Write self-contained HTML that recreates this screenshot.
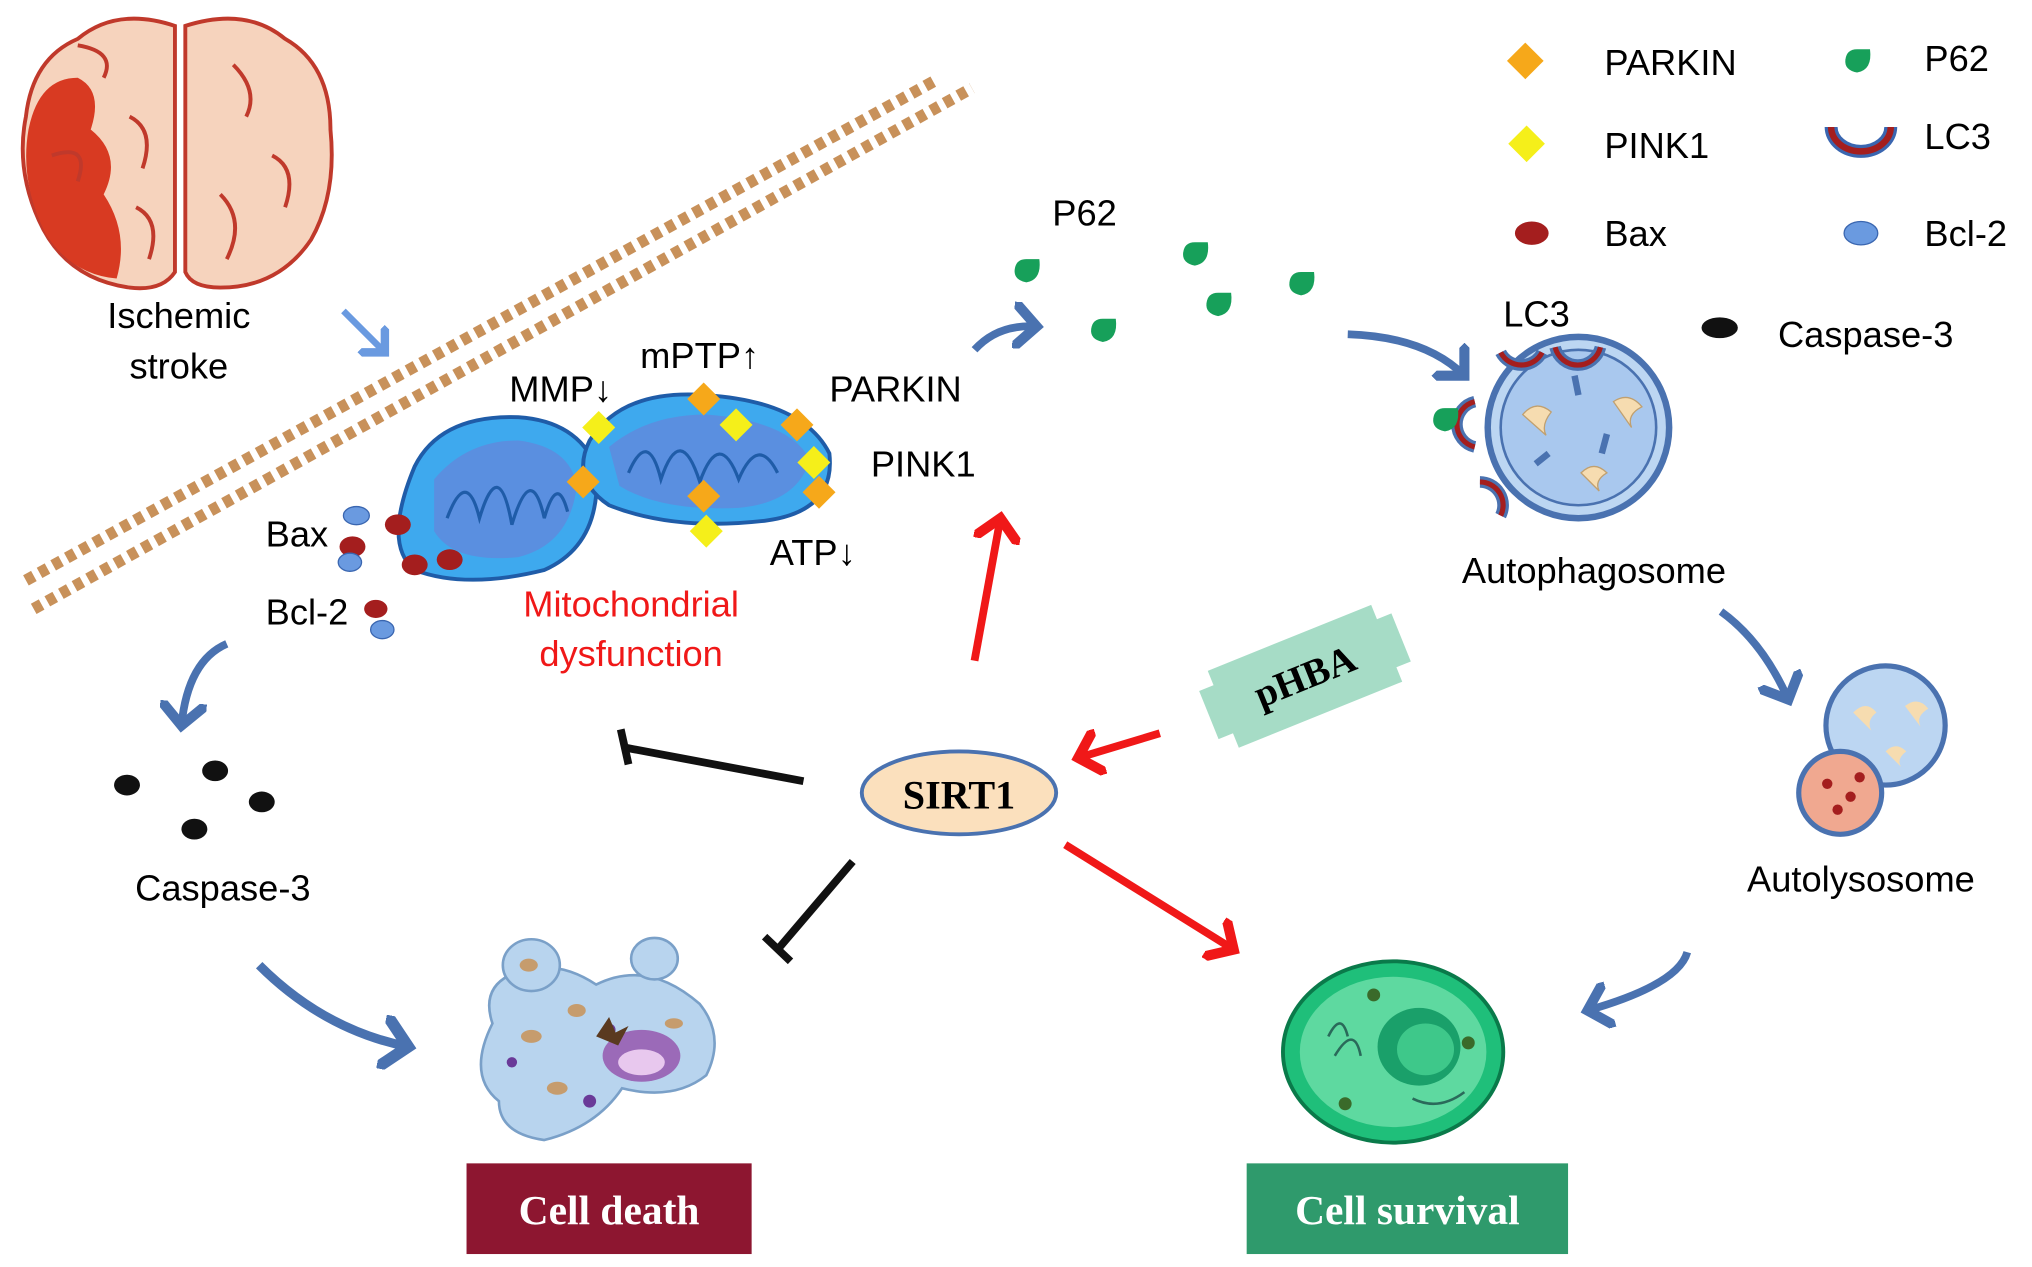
<!DOCTYPE html>
<html><head><meta charset="utf-8"><style>
html,body{margin:0;padding:0;background:#fff}
svg{display:block}
text{font-family:"Liberation Sans",sans-serif}
text.sf{font-family:"Liberation Serif",serif;font-weight:bold}
</style></head><body>
<svg width="2032" height="1267" viewBox="0 0 1568 978" preserveAspectRatio="none" xmlns="http://www.w3.org/2000/svg">
<defs>
<marker id="bh" markerWidth="6" markerHeight="6" refX="3" refY="3" orient="auto" markerUnits="strokeWidth"><path d="M0,0 L3,3 L0,6" fill="none" stroke="#4a72b0" stroke-width="1.3"/></marker>
<marker id="lb" markerWidth="6" markerHeight="6" refX="3" refY="3" orient="auto" markerUnits="strokeWidth"><path d="M0,0 L3,3 L0,6" fill="none" stroke="#6a9ae0" stroke-width="1.3"/></marker>
<marker id="rh" markerWidth="6" markerHeight="6" refX="3" refY="3" orient="auto" markerUnits="strokeWidth"><path d="M0,0 L3,3 L0,6" fill="none" stroke="#f01818" stroke-width="1.3"/></marker>
<g id="drop"><path d="M0,-10 L10,-10 Q12,6 0,8 Q-10,6 -9,-2 Q-8,-10 0,-10Z" fill="#17a05a"/></g>
</defs>

<!-- brain -->
<g>
<path d="M135,20 Q90,5 60,30 Q25,45 20,90 Q12,130 30,170 Q50,215 100,222 Q125,225 135,210Z" fill="#f6d3bd" stroke="#c0392b" stroke-width="3"/>
<path d="M143,20 Q190,5 220,30 Q255,50 255,100 Q260,150 240,185 Q215,222 170,222 Q148,222 143,210Z" fill="#f6d3bd" stroke="#c0392b" stroke-width="3"/>
<path d="M22,100 Q30,60 60,60 Q80,70 70,100 Q95,120 80,150 Q100,180 90,215 Q55,212 35,180 Q15,140 22,100Z" fill="#d83a22"/>
<path d="M60,35 Q90,40 80,60 M40,120 Q70,110 60,140 M100,90 Q120,100 110,130 M180,50 Q200,70 190,90 M210,120 Q230,130 220,160 M170,150 Q190,170 175,200 M105,160 Q125,170 115,200" fill="none" stroke="#c0392b" stroke-width="3"/>
</g>
<text x="138" y="253" font-size="28" text-anchor="middle">Ischemic</text>
<text x="138" y="292" font-size="28" text-anchor="middle">stroke</text>
<path d="M265,240 L297,272" stroke="#6a9ae0" stroke-width="5" fill="none" marker-end="url(#lb)"/>

<!-- dashed membrane -->
<line x1="20" y1="448" x2="722" y2="62" stroke="#c8915a" stroke-width="9" stroke-dasharray="7,5"/>
<line x1="26" y1="470" x2="750" y2="68" stroke="#c8915a" stroke-width="9" stroke-dasharray="7,5"/>

<!-- mitochondria -->
<path d="M320,360 Q340,320 400,322 Q445,325 460,360 Q465,420 420,440 Q360,455 320,440 Q295,420 320,360Z" fill="#3ea9ee" stroke="#1f5ca8" stroke-width="3"/>
<path d="M335,370 Q360,340 400,340 Q440,345 445,375 Q440,420 400,430 Q350,435 335,410Z" fill="#5a8fe0"/>
<path d="M345,400 Q360,360 370,400 Q385,350 395,405 Q410,355 420,400 Q430,365 438,395" fill="none" stroke="#1f5ca8" stroke-width="2.5"/>
<path d="M455,340 Q480,300 545,305 Q620,310 640,350 Q645,395 590,402 Q520,410 470,390 Q440,370 455,340Z" fill="#3ea9ee" stroke="#1f5ca8" stroke-width="3"/>
<path d="M470,345 Q500,320 545,320 Q610,325 625,355 Q615,388 570,392 Q510,395 478,375Z" fill="#5a8fe0"/>
<path d="M485,365 Q500,330 510,370 Q525,325 540,372 Q555,330 570,370 Q585,335 600,365" fill="none" stroke="#1f5ca8" stroke-width="2.5"/>
<g fill="#f6a81a">
<rect x="-9" y="-9" width="18" height="18" transform="translate(543,308) rotate(45)"/>
<rect x="-9" y="-9" width="18" height="18" transform="translate(615,328) rotate(45)"/>
<rect x="-9" y="-9" width="18" height="18" transform="translate(450,372) rotate(45)"/>
<rect x="-9" y="-9" width="18" height="18" transform="translate(543,383) rotate(45)"/>
<rect x="-9" y="-9" width="18" height="18" transform="translate(632,380) rotate(45)"/>
</g>
<g fill="#f5ef1a">
<rect x="-9" y="-9" width="18" height="18" transform="translate(462,330) rotate(45)"/>
<rect x="-9" y="-9" width="18" height="18" transform="translate(568,328) rotate(45)"/>
<rect x="-9" y="-9" width="18" height="18" transform="translate(628,357) rotate(45)"/>
<rect x="-9" y="-9" width="18" height="18" transform="translate(545,410) rotate(45)"/>
</g>
<g fill="#a41e1e"><ellipse cx="307" cy="405" rx="10" ry="8"/><ellipse cx="272" cy="422" rx="10" ry="8"/><ellipse cx="320" cy="436" rx="10" ry="8"/><ellipse cx="347" cy="432" rx="10" ry="8"/><ellipse cx="290" cy="470" rx="9" ry="7"/></g>
<g fill="#6a9ae0" stroke="#3a66b0"><ellipse cx="275" cy="398" rx="10" ry="7"/><ellipse cx="270" cy="434" rx="9" ry="7"/><ellipse cx="295" cy="486" rx="9" ry="7"/></g>

<g font-size="28">
<text x="393" y="310">MMP↓</text>
<text x="494" y="284">mPTP↑</text>
<text x="640" y="310">PARKIN</text>
<text x="672" y="368">PINK1</text>
<text x="594" y="436">ATP↓</text>
<text x="205" y="422">Bax</text>
<text x="205" y="482">Bcl-2</text>
<text x="812" y="174">P62</text>
</g>
<text x="487" y="476" font-size="28" fill="#f01818" text-anchor="middle">Mitochondrial</text>
<text x="487" y="514" font-size="28" fill="#f01818" text-anchor="middle">dysfunction</text>

<!-- P62 drops -->
<use href="#drop" x="792" y="210"/><use href="#drop" x="922" y="197"/><use href="#drop" x="1004" y="220"/><use href="#drop" x="851" y="256"/><use href="#drop" x="940" y="236"/>
<path d="M752,270 Q770,250 800,252" stroke="#4a72b0" stroke-width="6" fill="none" marker-end="url(#bh)"/>
<path d="M1040,258 Q1100,260 1130,290" stroke="#4a72b0" stroke-width="6" fill="none" marker-end="url(#bh)"/>

<!-- legend -->
<rect x="-10" y="-10" width="20" height="20" fill="#f6a81a" transform="translate(1177,47) rotate(45)"/>
<rect x="-10" y="-10" width="20" height="20" fill="#f5ef1a" transform="translate(1178,111) rotate(45)"/>
<ellipse cx="1182" cy="180" rx="13" ry="9" fill="#a41e1e"/>
<ellipse cx="1327" cy="253" rx="14" ry="8" fill="#111"/>
<use href="#drop" x="1433" y="48"/>
<path d="M1413,98 A22,18 0 0 0 1459,98" fill="none" stroke="#3a66b0" stroke-width="10"/>
<path d="M1413,98 A22,18 0 0 0 1459,98" fill="none" stroke="#a41e1e" stroke-width="5"/>
<ellipse cx="1436" cy="180" rx="13" ry="9" fill="#6a9ae0" stroke="#3a66b0"/>
<g font-size="28">
<text x="1238" y="58">PARKIN</text>
<text x="1238" y="122">PINK1</text>
<text x="1238" y="190">Bax</text>
<text x="1372" y="268">Caspase-3</text>
<text x="1485" y="55">P62</text>
<text x="1485" y="115">LC3</text>
<text x="1485" y="190">Bcl-2</text>
<text x="1160" y="252">LC3</text>
</g>

<!-- autophagosome -->
<circle cx="1218" cy="330" r="70" fill="#bcd6f2" stroke="#4a72b0" stroke-width="5"/>
<circle cx="1218" cy="330" r="60" fill="#a9c8ee" stroke="#4a72b0" stroke-width="2"/>
<g fill="#f6dcb0" stroke="#c0a070"><path d="M1175,320 q10,-12 22,-2 q-8,10 -4,18z"/><path d="M1245,310 q12,-8 22,4 q-12,6 -8,16z"/><path d="M1220,365 q10,-10 20,0 q-10,6 -6,14z"/></g>
<g stroke="#4a72b0" stroke-width="5"><line x1="1215" y1="290" x2="1218" y2="305"/><line x1="1240" y1="335" x2="1236" y2="350"/><line x1="1195" y1="350" x2="1185" y2="358"/></g>
<g fill="none" stroke-width="9"><path d="M1158,272 A18,18 0 0 0 1190,272" stroke="#4a72b0"/><path d="M1200,268 A18,18 0 0 0 1235,268" stroke="#4a72b0"/><path d="M1138,310 A18,18 0 0 0 1138,345" stroke="#4a72b0"/><path d="M1142,372 A18,18 0 0 1 1158,398" stroke="#4a72b0"/></g>
<g fill="none" stroke-width="4"><path d="M1158,272 A18,18 0 0 0 1190,272" stroke="#a41e1e"/><path d="M1200,268 A18,18 0 0 0 1235,268" stroke="#a41e1e"/><path d="M1138,310 A18,18 0 0 0 1138,345" stroke="#a41e1e"/><path d="M1142,372 A18,18 0 0 1 1158,398" stroke="#a41e1e"/></g>
<use href="#drop" x="1115" y="325"/>
<text x="1230" y="450" font-size="28" text-anchor="middle">Autophagosome</text>
<path d="M1328,472 Q1360,495 1380,540" stroke="#4a72b0" stroke-width="6" fill="none" marker-end="url(#bh)"/>

<!-- autolysosome -->
<circle cx="1455" cy="560" r="46" fill="#bcd6f2" stroke="#4a72b0" stroke-width="4"/>
<g fill="#f6dcb0"><path d="M1430,550 q10,-10 18,0 q-8,6 -4,14z"/><path d="M1470,545 q10,-8 18,2 q-10,6 -6,14z"/><path d="M1455,580 q8,-8 16,0 q-8,6 -4,12z"/></g>
<circle cx="1420" cy="612" r="32" fill="#f0a890" stroke="#4a72b0" stroke-width="4"/>
<g fill="#a41e1e"><circle cx="1410" cy="605" r="4"/><circle cx="1428" cy="615" r="4"/><circle cx="1418" cy="625" r="4"/><circle cx="1435" cy="600" r="4"/></g>
<text x="1436" y="688" font-size="28" text-anchor="middle">Autolysosome</text>
<path d="M1302,735 Q1295,760 1225,780" stroke="#4a72b0" stroke-width="6" fill="none" marker-end="url(#bh)"/>

<!-- pHBA -->
<g transform="translate(1007,522) rotate(-22)">
<rect x="-68" y="-32" width="136" height="64" fill="#a6dcc6"/>
<rect x="-80" y="-20" width="160" height="40" fill="#a6dcc6"/>
<text class="sf" x="0" y="10" font-size="30" text-anchor="middle">pHBA</text>
</g>

<!-- SIRT1 -->
<ellipse cx="740" cy="612" rx="75" ry="32" fill="#fbe0bd" stroke="#4a72b0" stroke-width="3"/>
<text class="sf" x="740" y="624" font-size="31" text-anchor="middle">SIRT1</text>
<path d="M752,510 L772,400" stroke="#f01818" stroke-width="6" fill="none" marker-end="url(#rh)"/>
<path d="M895,566 L832,585" stroke="#f01818" stroke-width="6" fill="none" marker-end="url(#rh)"/>
<path d="M822,652 L952,733" stroke="#f01818" stroke-width="6" fill="none" marker-end="url(#rh)"/>
<line x1="620" y1="603" x2="482" y2="577" stroke="#111" stroke-width="6"/>
<line x1="479" y1="563" x2="485" y2="590" stroke="#111" stroke-width="6"/>
<line x1="658" y1="665" x2="600" y2="733" stroke="#111" stroke-width="6"/>
<line x1="590" y1="723" x2="610" y2="742" stroke="#111" stroke-width="6"/>

<!-- caspase -->
<path d="M175,497 Q145,510 140,560" stroke="#4a72b0" stroke-width="6" fill="none" marker-end="url(#bh)"/>
<g fill="#111"><ellipse cx="98" cy="606" rx="10" ry="8"/><ellipse cx="166" cy="595" rx="10" ry="8"/><ellipse cx="202" cy="619" rx="10" ry="8"/><ellipse cx="150" cy="640" rx="10" ry="8"/></g>
<text x="172" y="695" font-size="28" text-anchor="middle">Caspase-3</text>
<path d="M200,745 Q250,795 315,808" stroke="#4a72b0" stroke-width="7" fill="none" marker-end="url(#bh)"/>

<!-- dead cell -->
<path d="M380,790 Q370,760 400,750 Q430,740 460,760 Q500,740 540,775 Q560,800 545,830 Q520,850 480,840 Q460,870 420,880 Q385,875 385,850 Q360,830 380,790Z" fill="#b8d4ee" stroke="#7aa0c8" stroke-width="2"/>
<ellipse cx="410" cy="745" rx="22" ry="20" fill="#b8d4ee" stroke="#7aa0c8" stroke-width="2"/>
<ellipse cx="505" cy="740" rx="18" ry="16" fill="#b8d4ee" stroke="#7aa0c8" stroke-width="2"/>
<ellipse cx="495" cy="815" rx="30" ry="20" fill="#9b6ab8"/>
<ellipse cx="495" cy="820" rx="18" ry="10" fill="#e8c8ee"/>
<g fill="#c69c6d"><ellipse cx="410" cy="800" rx="8" ry="5"/><ellipse cx="445" cy="780" rx="7" ry="5"/><ellipse cx="430" cy="840" rx="8" ry="5"/><ellipse cx="520" cy="790" rx="7" ry="4"/><ellipse cx="408" cy="745" rx="7" ry="5"/></g>
<g fill="#6a3a98"><circle cx="395" cy="820" r="4"/><circle cx="470" cy="795" r="5"/><circle cx="455" cy="850" r="5"/></g>
<path d="M460,800 l10,-15 l5,12 l10,-5 l-8,15z" fill="#5a3a20"/>

<!-- survival cell -->
<ellipse cx="1075" cy="812" rx="85" ry="70" fill="#1fbf7a" stroke="#0a7a4a" stroke-width="3"/>
<ellipse cx="1075" cy="812" rx="72" ry="58" fill="#5ed9a0"/>
<ellipse cx="1095" cy="808" rx="32" ry="30" fill="#1aa06a"/>
<ellipse cx="1100" cy="810" rx="22" ry="20" fill="#3ec88a"/>
<g fill="#3a6a2a"><circle cx="1060" cy="768" r="5"/><circle cx="1133" cy="805" r="5"/><circle cx="1038" cy="852" r="5"/></g>
<path d="M1025,800 q10,-20 15,0 M1030,815 q15,-25 20,0 M1090,848 q20,10 40,-5" fill="none" stroke="#2a6a5a" stroke-width="2"/>

<!-- boxes -->
<rect x="360" y="898" width="220" height="70" fill="#8d1630"/>
<text class="sf" x="470" y="945" font-size="32" fill="#fff" text-anchor="middle">Cell death</text>
<rect x="962" y="898" width="248" height="70" fill="#2f9a6c"/>
<text class="sf" x="1086" y="945" font-size="32" fill="#fff" text-anchor="middle">Cell survival</text>
</svg>
</body></html>
